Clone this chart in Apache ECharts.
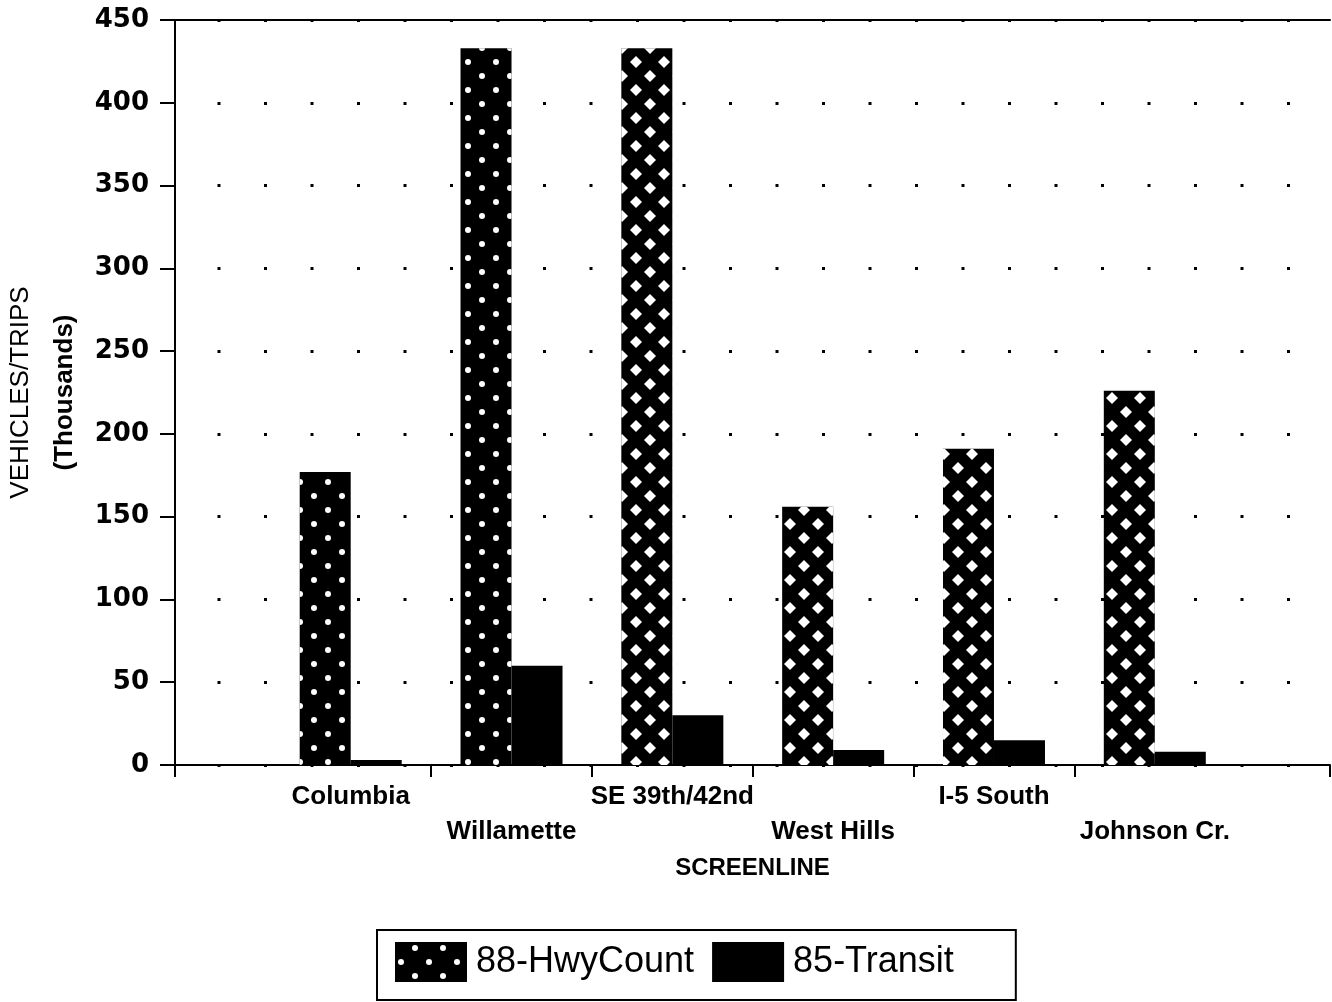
<!DOCTYPE html>
<html>
<head>
<meta charset="utf-8">
<script src="https://cdn.jsdelivr.net/npm/echarts@6/dist/echarts.min.js"></script>
<style>
  html, body { margin: 0; padding: 0; background: #fff; }
  #main { width: 1332px; height: 1002px; }
</style>
</head>
<body>
<div id="main"></div>
<script>
var categories = ['Columbia', 'Willamette', 'SE 39th/42nd', 'West Hills', 'I-5 South', 'Johnson Cr.'];
var hwyCount = [177, 433, 433, 156, 191, 226];   // 88-HwyCount
var transit = [3, 60, 30, 9, 15, 8];             // 85-Transit
var seriesNames = ['88-HwyCount', '85-Transit'];

// 点状图案 (Columbia / Willamette) 和菱形网格图案
var dotDecal = {
    symbol: 'circle', symbolSize: 0.5, color: '#fff',
    dashArrayX: [[12, 16], [0, 14, 12, 2]], dashArrayY: [12, 2]
};
var diamondDecal = {
    symbol: 'diamond', symbolSize: 1, color: '#fff',
    dashArrayX: [[12, 16], [0, 14, 12, 2]], dashArrayY: [12, 2]
};

var xMin = -1.0925, xMax = 6.0894;
var boundaryTicks = [xMin, 0.5, 1.5, 2.5, 3.5, 4.5, xMax];

var chart = echarts.init(document.getElementById('main'));

var hwyData = hwyCount.map(function (v, i) {
    return {
        value: [i, v],
        itemStyle: { decal: i < 2 ? dotDecal : diamondDecal }
    };
});
var transitData = transit.map(function (v, i) { return [i, v]; });

var option = {
    animation: false,
    grid: { left: 173, right: 2, top: 20, bottom: 237 },
    legend: {
        left: 377, top: 930,
        data: seriesNames,
        icon: 'rect',
        itemWidth: 72, itemHeight: 40, itemGap: 18,
        padding: [12, 62, 18, 18],
        borderColor: '#000', borderWidth: 2,
        textStyle: { fontFamily: 'Liberation Sans', fontSize: 36, color: '#000', padding: [0, 0, 0, 4] }
    },
    xAxis: [{
        type: 'value',
        min: xMin, max: xMax,
        name: 'SCREENLINE',
        nameLocation: 'middle',
        nameGap: 91,
        nameTextStyle: { fontFamily: 'Liberation Sans', fontWeight: 'bold', fontSize: 24, color: '#000' },
        axisLine: { onZero: false, lineStyle: { color: '#000', width: 2 } },
        axisTick: { show: true, length: 12, lineStyle: { color: '#000', width: 2 }, customValues: boundaryTicks },
        axisLabel: {
            customValues: [0, 1, 2, 3, 4, 5],
            margin: 14,
            fontFamily: 'Liberation Sans', fontWeight: 'bold', fontSize: 26, color: '#000',
            lineHeight: 35,
            formatter: function (v) {
                var i = Math.round(v);
                return i % 2 ? '\n' + categories[i] : categories[i];
            }
        },
        splitLine: { show: false }
    }, {
        type: 'value',
        position: 'top',
        min: xMin, max: xMax,
        axisLine: { onZero: false, lineStyle: { color: '#000', width: 2 } },
        axisTick: { show: false },
        axisLabel: { show: false },
        splitLine: { show: false }
    }],
    yAxis: {
        type: 'value',
        min: 0, max: 450, interval: 50,
        name: '{a|VEHICLES/TRIPS}\n{b|(Thousands)}',
        nameLocation: 'middle',
        nameGap: 88,
        nameTextStyle: {
            color: '#000',
            rich: {
                a: { fontFamily: 'Liberation Sans', fontSize: 26, lineHeight: 44, color: '#000' },
                b: { fontFamily: 'Liberation Sans', fontWeight: 'bold', fontSize: 26, lineHeight: 44, color: '#000' }
            }
        },
        axisLine: { show: true, onZero: false, lineStyle: { color: '#000', width: 2 } },
        axisTick: { show: true, length: 15, lineStyle: { color: '#000', width: 2 } },
        axisLabel: { margin: 26, fontFamily: 'DejaVu Sans', fontWeight: 'bold', fontSize: 26, color: '#000' },
        splitLine: {
            show: true,
            lineStyle: { color: '#000', width: 3, type: [3, 43.5], dashOffset: 4 }
        }
    },
    series: [{
        name: seriesNames[0],
        type: 'bar',
        barWidth: 51,
        barGap: '0%',
        itemStyle: { color: '#000', decal: dotDecal },
        data: hwyData
    }, {
        name: seriesNames[1],
        type: 'bar',
        barWidth: 51,
        barGap: '0%',
        itemStyle: { color: '#000' },
        data: transitData
    }]
};
chart.setOption(option);
</script>
</body>
</html>
